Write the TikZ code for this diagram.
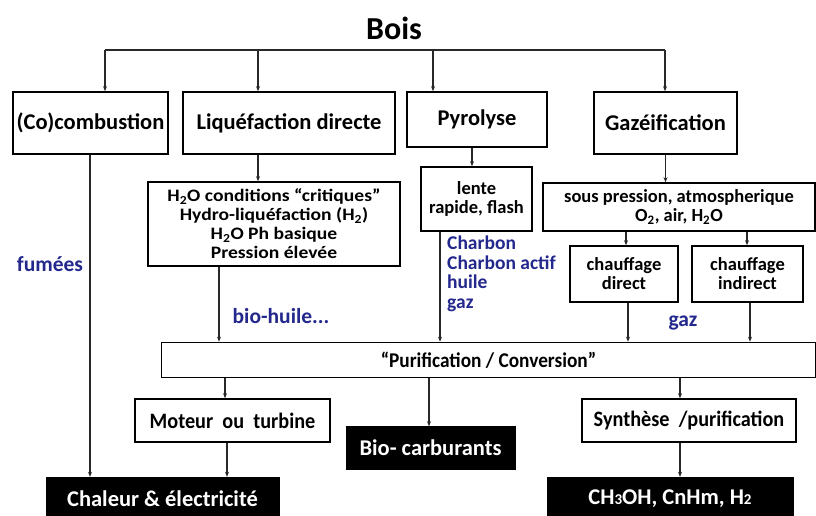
\documentclass[tikz,border=0pt]{standalone}
\usepackage{fontspec}
\setmainfont{Carlito}
\newfontfamily\condfont[FakeStretch=0.92]{Carlito}
\newfontfamily\widefont[FakeStretch=1.12]{Carlito}
\usetikzlibrary{arrows.meta}
\definecolor{lbl}{RGB}{35,40,140}
\definecolor{ln}{RGB}{40,40,40}
\tikzset{
  box/.style={draw=black, line width=1.6pt, fill=white, rectangle, inner sep=0pt, font=\bfseries},
  bigbox/.style={box, font=\bfseries\fontsize{22.5}{26}\selectfont},
  subbox/.style={box, align=center, font=\bfseries\fontsize{18.5}{19}\selectfont},
  lowbox/.style={box, font=\condfont\bfseries\fontsize{22}{26}\selectfont},
  blackbox/.style={draw=black, fill=black, text=white, rectangle, inner sep=0pt, font=\bfseries\fontsize{22.5}{26}\selectfont},
  arr/.style={draw=ln, line width=1.4pt, -{Stealth[length=5pt,width=4pt]}},
  ln/.style={draw=ln, line width=1.4pt},
  blue/.style={text=lbl, font=\bfseries\fontsize{21.5}{24}\selectfont, inner sep=0pt},
}
\begin{document}
\begin{tikzpicture}[x=1pt,y=-1pt]
\useasboundingbox (0,0) rectangle (816,515);
\fill[white] (0,0) rectangle (816,515);
\node[font=\bfseries\fontsize{32}{36}\selectfont, inner sep=0pt] (bois) at (394,28) {Bois};
% top level
\node[bigbox, minimum width=155, minimum height=62] (comb) at (90.5,123) {(Co)combustion};
\node[bigbox, minimum width=212, minimum height=62] (liq) at (289,123) {Liquéfaction directe};
\node[bigbox, minimum width=140, minimum height=55] (pyro) at (477,119.5) {Pyrolyse};
\node[bigbox, minimum width=143, minimum height=62] (gaz) at (665.5,123) {Gazéification};
% sub level
\node[subbox, minimum width=252, minimum height=84, font=\widefont\bfseries\fontsize{17.5}{19}\selectfont] (liqsub) at (274,224)
  {H\textsubscript{2}O conditions “critiques”\\Hydro-liquéfaction (H\textsubscript{2})\\H\textsubscript{2}O Ph basique\\Pression élevée};
\node[subbox, minimum width=111, minimum height=64] (pyrosub) at (476.5,199) {lente\\rapide, flash};
\node[subbox, minimum width=272, minimum height=48] (gazsub) at (679,207) {sous pression, atmospherique\\O\textsubscript{2}, air, H\textsubscript{2}O};
\node[subbox, minimum width=108, minimum height=56] (cdir) at (624,274) {chauffage\\direct};
\node[subbox, minimum width=111, minimum height=56] (cind) at (747.5,274) {chauffage\\indirect};
% purification
\node[lowbox, minimum width=654, minimum height=35, font=\condfont\bfseries\fontsize{21}{24}\selectfont] (purif) at (488.5,360) {“Purification / Conversion”};
\node[lowbox, minimum width=195, minimum height=43] (mot) at (232.5,420.5) {Moteur\ \ ou\ \ turbine};
\node[blackbox, minimum width=169, minimum height=43] (bio) at (430.5,448) {Bio- carburants};
\node[lowbox, minimum width=214, minimum height=43] (syn) at (689,420.5) {Synthèse\ \ /purification};
\node[blackbox, minimum width=233, minimum height=44] (chal) at (162.5,499) {Chaleur \& électricité};
\node[blackbox, minimum width=246, minimum height=44] (ch3) at (670,499) {CH{\fontsize{15}{15}\selectfont 3}OH, CnHm, H{\fontsize{15}{15}\selectfont 2}};
% labels
\node[blue] (fum) at (50,264) {fumées};
\node[blue] (bh) at (281,316) {bio-huile...};
\node[blue, anchor=west, align=left, font=\bfseries\fontsize{19.5}{19.5}\selectfont] (char) at (447,274) {Charbon\\Charbon actif\\huile\\gaz};
\node[blue] (gz) at (683,323) {gaz};
% connectors from Bois
\coordinate (t1) at (105,50);
\coordinate (t2) at (258,50);
\coordinate (t3) at (433,50);
\coordinate (t4) at (665,50);
\draw[ln] (t1) -- (t4);
\draw[arr] (t1) -- (t1 |- comb.north);
\draw[arr] (t2) -- (t2 |- liq.north);
\draw[arr] (t3) -- (t3 |- pyro.north);
\draw[arr] (t4) -- (t4 |- gaz.north);
% second level
\draw[arr] (liq.south -| t2) -- (liqsub.north -| t2);
\coordinate (xp) at (472,0);
\draw[arr] (pyro.south -| xp) -- (pyrosub.north -| xp);
\draw[arr] (gaz.south) -- (gaz.south |- gazsub.north);
\coordinate (xd) at (626,0);
\coordinate (xi) at (747,0);
\draw[arr] (gazsub.south -| xd) -- (cdir.north -| xd);
\draw[arr] (gazsub.south -| xi) -- (cind.north -| xi);
% to purification
\coordinate (xc) at (90,0);
\draw[arr] (comb.south -| xc) -- (chal.north -| xc);
\coordinate (xl) at (219,0);
\draw[arr] (liqsub.south -| xl) -- (purif.north -| xl);
\coordinate (xq) at (440,0);
\draw[arr] (pyrosub.south -| xq) -- (purif.north -| xq);
\coordinate (xd2) at (628,0);
\coordinate (xi2) at (750,0);
\draw[arr] (cdir.south -| xd2) -- (purif.north -| xd2);
\draw[arr] (cind.south -| xi2) -- (purif.north -| xi2);
% from purification
\coordinate (xm) at (225,0);
\coordinate (xb) at (429,0);
\coordinate (xs) at (680,0);
\draw[arr] (purif.south -| xm) -- (mot.north -| xm);
\draw[arr] (purif.south -| xb) -- (bio.north -| xb);
\draw[arr] (purif.south -| xs) -- (syn.north -| xs);
\coordinate (xm2) at (227,0);
\draw[arr] (mot.south -| xm2) -- (chal.north -| xm2);
\draw[arr] (syn.south -| xs) -- (ch3.north -| xs);
\end{tikzpicture}
\end{document}
